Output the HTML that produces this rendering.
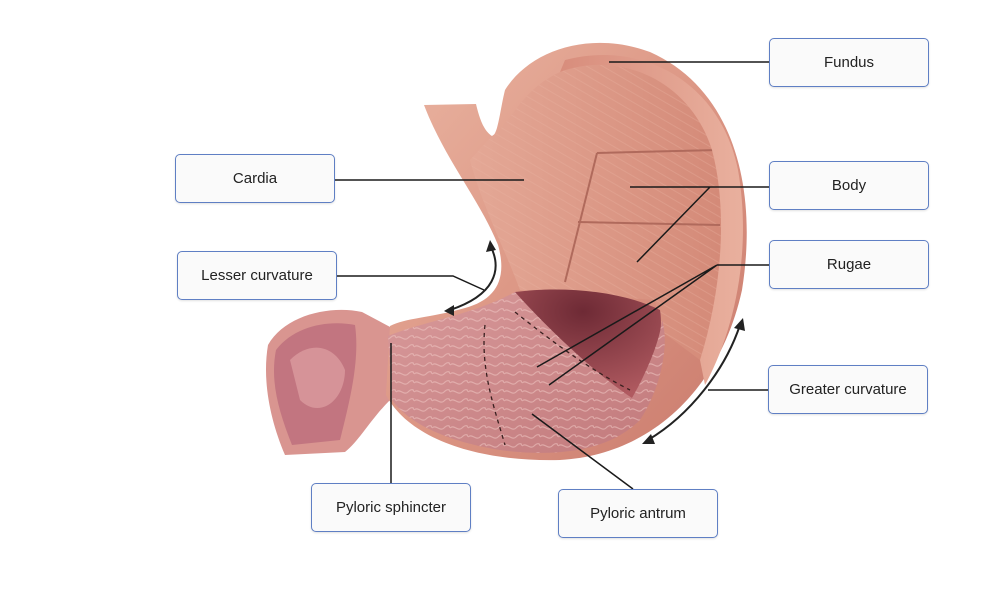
<!DOCTYPE html>
<html><head><meta charset="utf-8"><style>
html,body{margin:0;padding:0;background:#fff;}
.wrap{position:relative;width:1000px;height:592px;overflow:hidden;font-family:"Liberation Sans",sans-serif;}
.box{position:absolute;width:160px;height:49px;border:1.5px solid #5f7fc4;border-radius:5px;background:#fafafa;box-sizing:border-box;display:flex;align-items:center;justify-content:center;font-size:15px;color:#222;box-shadow:0 1px 2px rgba(0,0,0,0.12);}
svg{position:absolute;left:0;top:0;}
</style></head><body><div class="wrap">
<svg width="1000" height="592" viewBox="0 0 1000 592">
<defs>
<linearGradient id="outer" x1="0" y1="0" x2="1" y2="1">
<stop offset="0" stop-color="#eab5a2"/><stop offset="0.5" stop-color="#dc9684"/><stop offset="1" stop-color="#c97a6c"/></linearGradient>
<linearGradient id="wall" x1="0" y1="0" x2="1" y2="0">
<stop offset="0" stop-color="#d88d7c"/><stop offset="1" stop-color="#e9b09e"/></linearGradient>
<linearGradient id="back" x1="0" y1="0" x2="1" y2="0">
<stop offset="0" stop-color="#e4a896"/><stop offset="1" stop-color="#d48a78"/></linearGradient>
<radialGradient id="cav" cx="0.5" cy="0.2" r="0.8">
<stop offset="0" stop-color="#6e2a35"/><stop offset="1" stop-color="#b05a60"/></radialGradient>
<linearGradient id="muc" x1="0" y1="0" x2="1" y2="1">
<stop offset="0" stop-color="#d8999a"/><stop offset="1" stop-color="#c27a7c"/></linearGradient>
<pattern id="rug" width="18" height="9" patternUnits="userSpaceOnUse">
<path d="M0,5 C4,1 8,9 12,5 S18,3 18,5" stroke="#f0c8c4" stroke-width="1.2" fill="none"/>
</pattern>
<pattern id="fib" width="8" height="8" patternUnits="userSpaceOnUse" patternTransform="rotate(30)">
<line x1="0" y1="4" x2="8" y2="4" stroke="#eab4a2" stroke-width="0.8"/>
</pattern>
</defs>
<!-- duodenum -->
<path d="M268,345 C285,315 330,305 362,312 L392,328 L390,400 C370,420 360,440 345,452 L285,455 C270,420 262,380 268,345 Z" fill="#d99590"/>
<path d="M276,350 C295,325 330,320 355,325 C360,360 350,400 340,440 L292,445 C278,410 270,380 276,350 Z" fill="#c27580"/>
<path d="M290,360 C310,340 335,345 345,370 C345,400 320,420 300,400 Z" fill="#e3a7a8" opacity="0.6"/>
<!-- stomach outer -->
<path d="M424,105 C445,160 480,200 498,245 C508,280 495,300 465,308 C430,318 405,318 390,326 L386,395 C410,440 480,462 560,460 C650,455 720,390 742,290 C758,190 735,90 650,52 C590,30 530,50 505,90 C500,110 498,135 492,136 C482,130 478,112 476,104 Z" fill="url(#outer)"/>
<!-- back wall (inside) -->
<path d="M492,136 C510,125 520,90 560,72 C620,50 690,80 712,150 C728,210 722,290 700,360 L660,330 L655,300 L520,290 C505,250 480,200 470,160 Z" fill="url(#back)"/>
<path d="M492,136 C510,125 520,90 560,72 C620,50 690,80 712,150 C728,210 722,290 700,360 L660,330 L655,300 L520,290 C505,250 480,200 470,160 Z" fill="url(#fib)" opacity="0.4"/>
<path d="M597,153 L718,150 M597,153 L565,282 M578,222 L720,225" stroke="#b06a5c" stroke-width="2" fill="none"/>
<!-- rim -->
<path d="M700,360 C722,290 728,210 712,150 C690,80 620,50 560,72 L565,60 C640,40 720,80 738,170 C752,250 735,330 705,385 Z" fill="url(#wall)"/>
<!-- cavity -->
<path d="M515,292 C560,286 620,290 660,310 C665,340 650,380 630,400 C580,380 540,340 505,315 Z" fill="url(#cav)"/>
<!-- mucosa -->
<path d="M388,336 C420,322 470,316 515,292 C540,320 590,370 632,398 C648,370 660,340 662,320 C670,345 660,390 640,420 C610,450 560,458 500,450 C450,442 410,425 392,400 Z" fill="url(#muc)"/>
<path d="M388,336 C420,322 470,316 515,292 C540,320 590,370 632,398 C648,370 660,340 662,320 C670,345 660,390 640,420 C610,450 560,458 500,450 C450,442 410,425 392,400 Z" fill="url(#rug)" opacity="0.55"/>
<path d="M485,325 C480,370 495,410 505,445 M515,312 C550,340 590,370 630,390" stroke="#3a2020" stroke-width="1.3" stroke-dasharray="4,4" fill="none"/>
<!-- leader lines -->
<g stroke="#1a1a1a" stroke-width="1.5" fill="none">
<path d="M609,62 H769"/>
<path d="M334,180 H524"/>
<path d="M630,187 H769 M710,187 L637,262"/>
<path d="M717,265 H769 M717,265 L537,367 M717,265 L549,385"/>
<path d="M336,276 H453 L484,290"/>
<path d="M768,390 H708"/>
<path d="M391,483 V343"/>
<path d="M633,489 L532,414"/>
</g>
<g stroke="#222" stroke-width="2" fill="none">
<path d="M491,247 C502,270 495,295 450,310"/>
<path d="M740,325 C725,370 690,415 648,440"/>
</g>
<g fill="#222">
<path d="M490,240 L486,252 L496,250 Z"/>
<path d="M444,311 L454,305 L454,316 Z"/>
<path d="M743,318 L734,328 L745,331 Z"/>
<path d="M642,444 L651,434 L655,444 Z"/>
</g>
</svg>
<div class="box" style="left:769px;top:38px;">Fundus</div>
<div class="box" style="left:175px;top:154px;">Cardia</div>
<div class="box" style="left:769px;top:161px;">Body</div>
<div class="box" style="left:769px;top:240px;">Rugae</div>
<div class="box" style="left:177px;top:251px;">Lesser curvature</div>
<div class="box" style="left:768px;top:365px;">Greater curvature</div>
<div class="box" style="left:311px;top:483px;">Pyloric sphincter</div>
<div class="box" style="left:558px;top:489px;">Pyloric antrum</div>
</div></body></html>
